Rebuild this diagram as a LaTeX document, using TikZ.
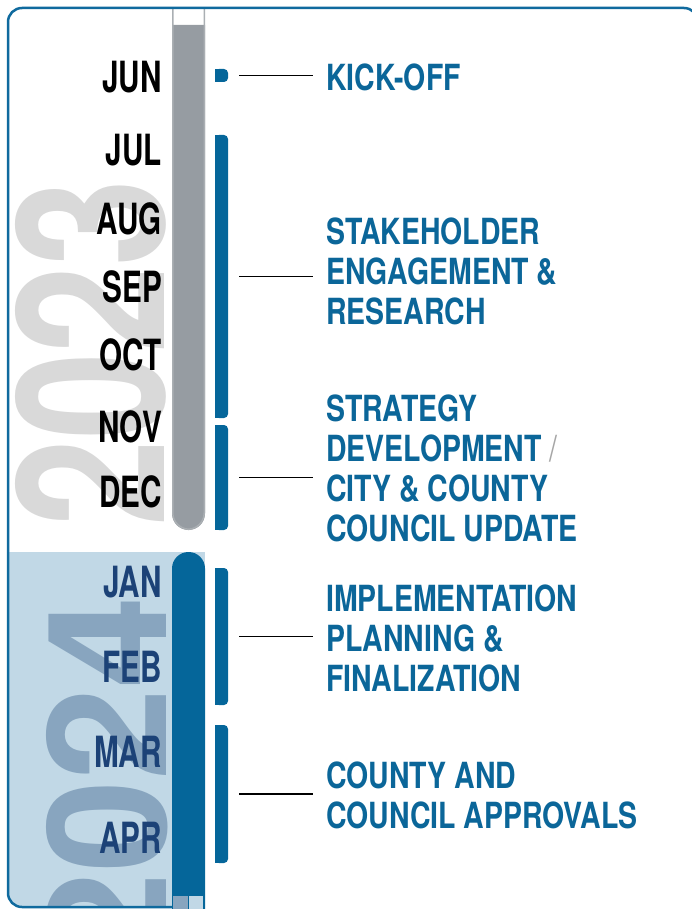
\documentclass[tikz,border=0pt]{standalone}
\usepackage{fontspec}
\setmainfont{TeX Gyre Heros}
\newfontfamily\labelfont[FakeStretch=0.79]{TeX Gyre Heros}
\newfontfamily\monthfont[FakeStretch=0.69]{TeX Gyre Heros}
\usepackage{xcolor}
\definecolor{frameblue}{HTML}{0F6A9E}
\definecolor{barblue}{HTML}{05669A}
\definecolor{textblue}{HTML}{0B6699}
\definecolor{regionblue}{HTML}{C1D8E6}
\definecolor{yearblue}{HTML}{88A5BF}
\definecolor{yeargray}{HTML}{D9D9D9}
\definecolor{bargray}{HTML}{969CA2}
\definecolor{baredge}{HTML}{AAAFB3}
\definecolor{monthnavy}{HTML}{1C4277}
\definecolor{slashgray}{HTML}{A6A6A6}
\tikzset{
  month/.style={anchor=base east, inner sep=0pt, font=\monthfont\bfseries\fontsize{43}{43}\selectfont},
  phase/.style={anchor=north west, inner sep=0pt, align=left, text=textblue, font=\labelfont\bfseries\fontsize{36}{40}\selectfont},
  segbar/.style={fill=barblue, rounded corners=4pt, minimum width=13pt, inner sep=0pt},
  conn/.style={draw=black, line width=1.6pt, shorten <=11pt, shorten >=13pt},
}

\begin{document}
\begin{tikzpicture}[x=1pt, y=-1pt]
        \useasboundingbox (0,0) rectangle (691,909);

        \begin{scope}
            \clip[rounded corners=14pt] (8,8) rectangle (698,907);
            \fill[regionblue] (8,552) rectangle (205,909);
            \node[rotate=90, anchor=south west, inner sep=0pt, text=yearblue] (Y2024) at (168,965) {\resizebox{368pt}{120pt}{\bfseries 2024}};
        \end{scope}
        \node[rotate=90, anchor=south west, inner sep=0pt, text=yeargray] (Y2023) at (167,527) {\resizebox{347pt}{149pt}{\bfseries 2023}};

        \fill[bargray, rounded corners=16.5pt] (172,25) -- (172,530) -- (205,530) -- (205,25);
        \draw[baredge, line width=1.5pt, rounded corners=16.5pt] (172.75,8) -- (172.75,529.25) -- (204.25,529.25) -- (204.25,8);
        \fill[barblue, rounded corners=16.5pt] (172,915) -- (172,552) -- (205,552) -- (205,915);
        \fill[yearblue] (173,896) rectangle (188,909);
        \fill[regionblue] (189,896) rectangle (203,909);

        \draw[frameblue, line width=2.5pt, rounded corners=14pt] (172,907) -- (8,907) -- (8,8) -- (698,8) -- (698,930);

        \node[month] (M23_6) at (162,93) {JUN};
        \node[month] (M23_7) at (162,166) {JUL};
        \node[month] (M23_8) at (162,235) {AUG};
        \node[month] (M23_9) at (162,302) {SEP};
        \node[month] (M23_10) at (162,370) {OCT};
        \node[month] (M23_11) at (162,442) {NOV};
        \node[month] (M23_12) at (162,507) {DEC};
        \node[month, text=monthnavy] (M24_1) at (162,597) {JAN};
        \node[month, text=monthnavy] (M24_2) at (162,682) {FEB};
        \node[month, text=monthnavy] (M24_3) at (162,767) {MAR};
        \node[month, text=monthnavy] (M24_4) at (162,853) {APR};

        \node[segbar, minimum height=13pt] (kickbar) at (221.5,75.5) {};
        \node[segbar, minimum height=283pt] (stakebar) at (221.5,276.5) {};
        \node[segbar, minimum height=105pt] (stratbar) at (221.5,477.5) {};
        \node[segbar, minimum height=137pt] (implbar) at (221.5,636.5) {};
        \node[segbar, minimum height=138pt] (approvbar) at (221.5,794) {};
        \foreach \b in {kickbar,stakebar,stratbar,implbar,approvbar}
            \fill[barblue] (\b.north west) rectangle ([xshift=6pt]\b.south west);

        \node[phase] (kickoff) at (326,64) {KICK-OFF};
        \node[phase] (stake) at (326,218) {STAKEHOLDER\\ENGAGEMENT \&\\RESEARCH};
        \node[phase] (strat) at (326,395) {STRATEGY\\DEVELOPMENT {\color{slashgray}\mdseries/}\\CITY \& COUNTY\\COUNCIL UPDATE};
        \node[phase] (impl) at (326,585) {IMPLEMENTATION\\PLANNING \&\\FINALIZATION};
        \node[phase] (approv) at (326,762) {COUNTY AND\\COUNCIL APPROVALS};

        \draw[conn] (kickbar.east) -- (kickbar.east -| kickoff.west);
        \draw[conn] (stakebar.east) -- (stakebar.east -| stake.west);
        \draw[conn] (stratbar.east) -- (stratbar.east -| strat.west);
        \draw[conn] (implbar.east) -- (implbar.east -| impl.west);
        \draw[conn] (approvbar.east) -- (approvbar.east -| approv.west);
    \end{tikzpicture}
\end{document}
